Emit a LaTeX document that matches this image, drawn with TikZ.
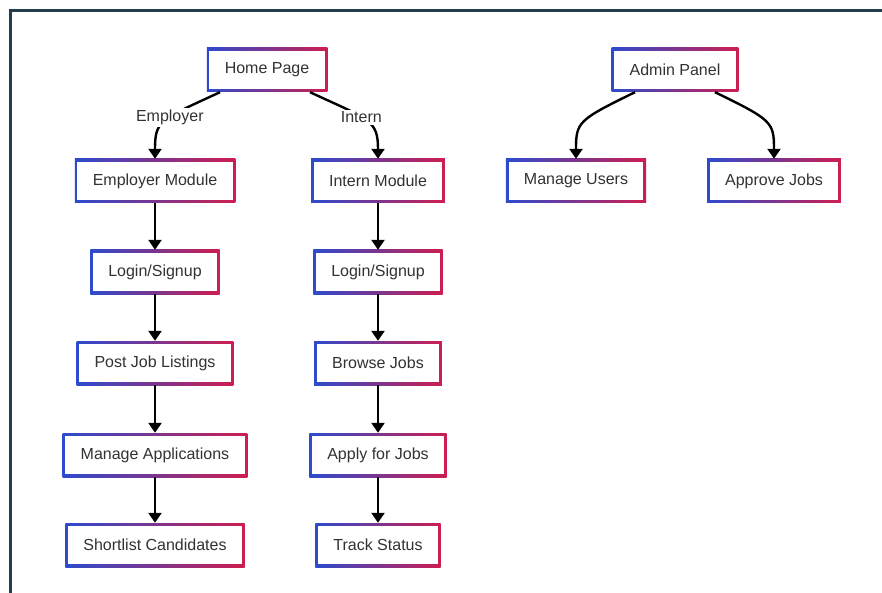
\documentclass[tikz,border=0pt]{standalone}
\usepackage{fontspec}
\setmainfont{Liberation Sans}
\usetikzlibrary{arrows.meta}

\definecolor{edgeblue}{RGB}{45,75,205}
\definecolor{edgered}{RGB}{205,30,80}
\definecolor{framegrey}{RGB}{34,62,76}
\definecolor{textgrey}{RGB}{50,50,50}

\begin{document}
\begin{tikzpicture}[x = 1pt, y = -1pt, font = \fontsize{16}{19}\selectfont,
        page/.style = {rectangle, inner xsep = 18pt, minimum height = 44pt, text = textgrey,
                path picture = {
                        \shade[left color = edgeblue, right color = edgered]
                        (path picture bounding box.south west) rectangle (path picture bounding box.north east);
                        \fill[white]
                        ([shift = {(2.7pt,2.7pt)}]path picture bounding box.south west) rectangle
                        ([shift = {(-2.7pt,-2.7pt)}]path picture bounding box.north east);
                }},
        flow/.style = {line width = 2.4pt, -{Triangle[width = 13pt, length = 10pt]}},
        choice/.style = {fill = white, text = textgrey, inner sep = 2pt}]

        \useasboundingbox (0,0) rectangle (882,593);
        \fill[white] (0,0) rectangle (882,593);

        \draw[framegrey, line width = 3pt] (10.5,600) -- (10.5,10.5) -- (890,10.5);

        \node[page] (home) at (267,70) {Home Page};
        \node[page] (admin) at (675,70) {Admin Panel};

        \node[page] (empmod) at (155,181) {Employer Module};
        \node[page] (intmod) at (378,181) {Intern Module};
        \node[page] (users) at (576,181) {Manage Users};
        \node[page] (approve) at (774,181) {Approve Jobs};

        \node[page] (emplogin) at (155,272) {Login/Signup};
        \node[page] (intlogin) at (378,272) {Login/Signup};

        \node[page] (post) at (155,363) {Post Job Listings};
        \node[page] (browse) at (378,363) {Browse Jobs};

        \node[page] (manage) at (155,455) {Manage Applications};
        \node[page] (apply) at (378,455) {Apply for Jobs};

        \node[page] (shortlist) at (155,545) {Shortlist Candidates};
        \node[page] (track) at (378,545) {Track Status};

        \draw[flow]
        ([xshift = -47pt]home.south) .. controls (160,120) and (155,120) ..
        (empmod.north) node[choice, pos = 0.42]{Employer};

        \draw[flow]
        ([xshift = 43pt]home.south) .. controls (370,120) and (378,120) ..
        (intmod.north) node[choice, pos = 0.42]{Intern};

        \draw[flow]
        ([xshift = -40pt]admin.south) .. controls (578,120) and (576,122) ..
        (users.north);

        \draw[flow]
        ([xshift = 40pt]admin.south) .. controls (772,120) and (774,122) ..
        (approve.north);

        \draw[flow] (empmod) -- (emplogin);
        \draw[flow] (emplogin) -- (post);
        \draw[flow] (post) -- (manage);
        \draw[flow] (manage) -- (shortlist);

        \draw[flow] (intmod) -- (intlogin);
        \draw[flow] (intlogin) -- (browse);
        \draw[flow] (browse) -- (apply);
        \draw[flow] (apply) -- (track);
    \end{tikzpicture}
\end{document}
